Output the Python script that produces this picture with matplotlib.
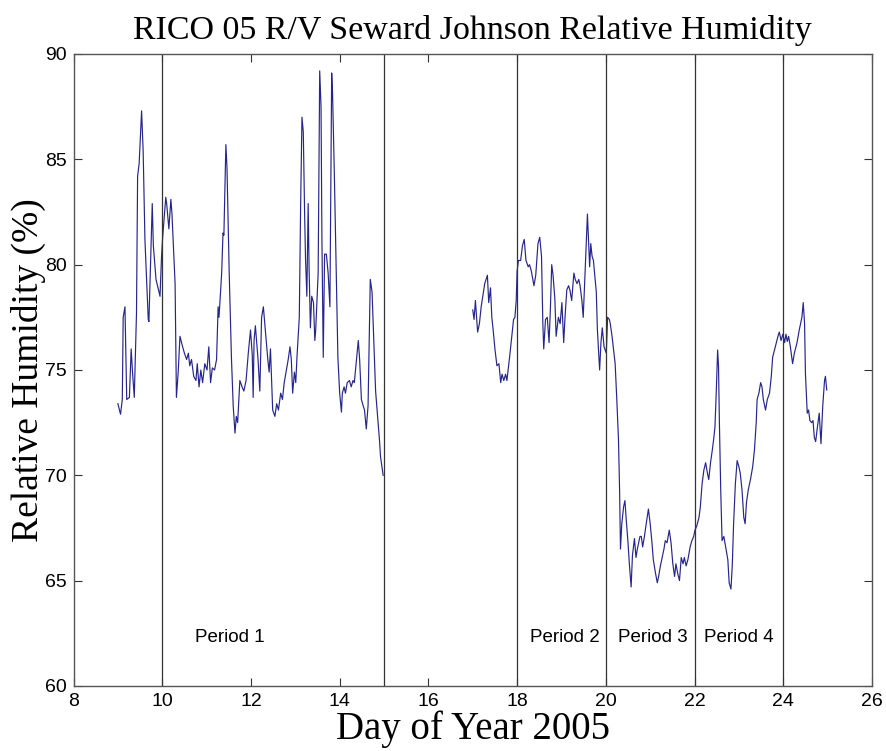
import matplotlib
matplotlib.use("Agg")
import matplotlib.pyplot as plt

# ---- data ----
day1 = [9.00, 9.06, 9.10, 9.12, 9.16, 9.20, 9.26, 9.30, 9.33, 9.37, 9.42, 9.445, 9.48, 9.535, 9.57,
        9.61, 9.685, 9.70, 9.775, 9.80, 9.86, 9.95, 9.985, 10.01, 10.08, 10.10, 10.15, 10.195, 10.22,
        10.29, 10.32, 10.36, 10.40, 10.46, 10.50, 10.55, 10.59, 10.62, 10.66, 10.71, 10.76, 10.79,
        10.83, 10.87, 10.91, 10.96, 11.01, 11.05, 11.09, 11.13, 11.18, 11.225, 11.26, 11.28, 11.34,
        11.37, 11.39, 11.435, 11.46, 11.51, 11.56, 11.60, 11.64, 11.67, 11.70, 11.75, 11.80, 11.84,
        11.89, 11.94, 11.99, 12.03, 12.05, 12.07, 12.10, 12.16, 12.20, 12.24, 12.28, 12.32, 12.38,
        12.41, 12.44, 12.49, 12.54, 12.58, 12.62, 12.67, 12.71, 12.75, 12.79, 12.84, 12.88, 12.91,
        12.94, 12.98, 13.01, 13.04, 13.09, 13.12, 13.15, 13.18, 13.21, 13.23, 13.26, 13.29, 13.31,
        13.34, 13.37, 13.41, 13.44, 13.46, 13.515, 13.55, 13.58, 13.60, 13.63, 13.66, 13.70, 13.74,
        13.78, 13.80, 13.82, 13.84, 13.88, 13.93, 13.96, 14.00, 14.04, 14.06, 14.10, 14.13, 14.17,
        14.22, 14.26, 14.30, 14.33, 14.38, 14.42, 14.45, 14.49, 14.53, 14.56, 14.60, 14.64, 14.66,
        14.69, 14.73, 14.77, 14.81, 14.865, 14.90, 14.92, 14.98]
rh1 = [73.4, 72.9, 73.6, 77.5, 78.0, 73.6, 73.7, 76.0, 74.9, 73.7, 77.7, 84.2, 84.8, 87.3, 85.4,
       81.2, 77.4, 77.3, 82.9, 80.9, 79.3, 78.5, 80.4, 81.3, 83.2, 82.9, 81.7, 83.1, 82.4,
       79.1, 73.7, 74.9, 76.6, 76.1, 75.8, 75.5, 75.8, 75.2, 75.5, 74.7, 74.5, 75.3,
       74.2, 75.0, 74.4, 75.3, 75.0, 76.1, 74.4, 75.1, 75.0, 75.5, 78.0, 77.5, 79.6,
       81.5, 81.4, 85.7, 84.6, 79.6, 75.6, 73.3, 72.0, 72.8, 72.5, 74.5, 74.2, 74.0,
       74.5, 75.8, 76.9, 75.7, 73.7, 76.4, 77.1, 75.5, 74.0, 77.5, 78.0, 77.0, 75.5,
       74.9, 76.0, 73.1, 72.8, 73.4, 73.1, 73.9, 73.6, 74.4, 74.9, 75.5, 76.1, 75.5,
       73.9, 74.9, 74.4, 75.7, 77.5, 82.8, 87.0, 86.3, 82.4, 80.3, 78.5, 82.9, 79.9,
       77.0, 78.5, 78.2, 76.4, 76.9, 79.6, 89.2, 87.5, 81.2, 75.6, 80.5, 80.5, 79.6,
       78.0, 83.6, 89.1, 88.1, 84.3, 78.8, 75.6, 73.9, 73.0, 73.9, 74.2, 73.9, 74.4,
       74.5, 74.2, 74.5, 74.4, 75.5, 76.4, 75.5, 73.6, 73.3, 73.1, 72.2, 73.3, 75.8,
       79.3, 78.7, 76.4, 74.0, 72.5, 71.6, 70.9, 70.0]

day2 = [17.00, 17.03, 17.06, 17.11, 17.15, 17.19, 17.27, 17.33, 17.36, 17.40, 17.43, 17.46, 17.50,
        17.545, 17.59, 17.63, 17.66, 17.70, 17.74, 17.77, 17.83, 17.88, 17.92, 17.95, 17.98, 18.00,
        18.03, 18.08, 18.12, 18.16, 18.20, 18.25, 18.28, 18.32, 18.38, 18.42, 18.47, 18.51, 18.55,
        18.58, 18.60, 18.64, 18.68, 18.72, 18.75, 18.78, 18.81, 18.85, 18.88, 18.93, 18.97, 19.01,
        19.05, 19.08, 19.12, 19.16, 19.19, 19.23, 19.28, 19.31, 19.35, 19.39, 19.42, 19.46, 19.49,
        19.52, 19.57, 19.585, 19.61, 19.635, 19.66, 19.69, 19.72, 19.785, 19.81, 19.86, 19.89, 19.92,
        19.96, 20.01, 20.04, 20.08, 20.10, 20.14, 20.21, 20.245, 20.285, 20.31, 20.33, 20.36, 20.40,
        20.43, 20.46, 20.50, 20.53, 20.57, 20.60, 20.645, 20.68, 20.71, 20.77, 20.80, 20.83, 20.87,
        20.91, 20.96, 21.00, 21.04, 21.07, 21.12, 21.16, 21.19, 21.23, 21.27, 21.31, 21.34, 21.38,
        21.43, 21.47, 21.51, 21.55, 21.58, 21.62, 21.66, 21.70, 21.74, 21.77, 21.81, 21.85, 21.90,
        21.94, 21.98, 22.01, 22.05, 22.10, 22.13, 22.17, 22.21, 22.25, 22.29, 22.32, 22.36, 22.40,
        22.43, 22.46, 22.49, 22.52, 22.54, 22.56, 22.59, 22.62, 22.66, 22.70, 22.75, 22.78, 22.82,
        22.85, 22.88, 22.92, 22.96, 23.00, 23.03, 23.07, 23.11, 23.14, 23.17, 23.21, 23.26, 23.31,
        23.35, 23.39, 23.41, 23.45, 23.49, 23.52, 23.55, 23.60, 23.64, 23.69, 23.73, 23.76, 23.82,
        23.88, 23.91, 23.95, 23.99, 24.03, 24.06, 24.09, 24.12, 24.16, 24.21, 24.25, 24.31, 24.36,
        24.42, 24.45, 24.48, 24.50, 24.54, 24.57, 24.60, 24.64, 24.67, 24.70, 24.73, 24.77, 24.81,
        24.85, 24.89, 24.93, 24.95, 24.98]
rh2 = [77.85, 77.4, 78.3, 76.8, 77.2, 78.0, 79.1, 79.5, 78.2, 78.9, 77.5, 76.9, 76.0,
       75.2, 75.3, 74.4, 74.8, 74.5, 74.8, 74.5, 75.6, 76.6, 77.4, 77.5, 78.3, 79.7,
       80.2, 80.2, 80.9, 81.2, 80.2, 79.9, 80.0, 79.7, 79.0, 79.5, 81.0, 81.3, 80.4,
       77.2, 76.0, 77.4, 77.5, 76.3, 77.9, 80.0, 79.5, 78.4, 76.6, 77.5, 77.2, 78.2,
       76.3, 77.5, 78.8, 79.0, 78.8, 78.3, 79.6, 79.3, 79.1, 79.3, 79.0, 78.3, 77.5,
       79.0, 81.7, 82.4, 81.2, 79.9, 81.0, 80.4, 80.2, 78.7, 76.9, 75.0, 76.3, 77.0,
       76.1, 75.8, 77.5, 77.4, 77.2, 76.6, 75.3, 73.7, 71.7, 69.3, 66.5, 67.7, 68.5,
       68.8, 67.9, 66.8, 65.8, 64.7, 66.2, 67.0, 66.1, 66.5, 67.1, 67.1, 66.6, 67.1,
       67.7, 68.4, 67.7, 66.8, 66.0, 65.35, 64.9, 65.2, 65.7, 66.1, 66.5, 66.9, 66.8,
       67.4, 66.8, 65.8, 65.2, 65.8, 65.35, 65.0, 66.1, 65.8, 66.1, 65.7, 66.0, 66.6,
       66.9, 67.1, 67.4, 67.6, 68.0, 68.5, 69.6, 70.25, 70.6, 70.1, 69.8, 70.6, 71.2,
       71.7, 72.3, 74.0, 75.95, 75.2, 72.5, 69.3, 66.9, 67.1, 66.6, 66.0, 64.9, 64.6,
       65.7, 67.7, 69.6, 70.7, 70.4, 70.1, 69.3, 68.0, 67.7, 68.7, 69.3, 69.8, 70.4,
       71.2, 72.5, 73.6, 73.9, 74.4, 74.2, 73.6, 73.1, 73.6, 73.9, 74.7, 75.6, 76.1,
       76.6, 76.8, 76.4, 76.7, 76.3, 76.7, 76.35, 76.6, 76.1, 75.3, 75.8, 76.3, 76.9,
       77.5, 78.2, 77.2, 74.8, 72.95, 73.1, 72.6, 72.5, 72.6, 71.8, 71.6, 72.3, 72.95,
       71.5, 73.3, 74.5, 74.7, 74.05]

period_bounds = [10, 15, 18, 20, 22, 24]
period_labels = ["Period 1", "Period 2", "Period 3", "Period 4"]
period_label_x = [11.53, 19.08, 21.05, 23.0]
period_label_y = 62.3

xticks = [8, 10, 12, 14, 16, 18, 20, 22, 24, 26]
yticks = [60, 65, 70, 75, 80, 85, 90]

title = "RICO 05 R/V Seward Johnson Relative Humidity"
xlabel = "Day of Year 2005"
ylabel = "Relative Humidity (%)"

# ---- figure ----
W, H = 886, 751
fig = plt.figure(figsize=(W / 100, H / 100), dpi=100)
L, R, T, B = 73.5, 872, 54, 686
ax = fig.add_axes([L / W, 1 - B / H, (R - L) / W, (B - T) / H])

line_color = "#25258f"
ax.plot(day1, rh1, color=line_color, lw=0.85)
ax.plot(day2, rh2, color=line_color, lw=0.85)

for xb in period_bounds:
    ax.axvline(xb, color="#333333", lw=0.9)

sans = ["Liberation Sans", "DejaVu Sans"]
serif = ["Liberation Serif", "DejaVu Serif"]

for lab, xp in zip(period_labels, period_label_x):
    ax.text(xp, period_label_y, lab, ha="center", va="center", fontsize=13.5, family=sans)

ax.set_xlim(8, 26)
ax.set_ylim(60, 90)
ax.set_xticks(xticks)
ax.set_yticks(yticks)
ax.set_xticklabels([str(v) for v in xticks], family=sans)
ax.set_yticklabels([str(v) for v in yticks], family=sans)
ax.tick_params(direction="in", top=True, right=True, length=6, width=0.8,
               labelsize=14, pad=5, colors="#333333", labelcolor="black")
for s in ax.spines.values():
    s.set_color("#555555")
    s.set_linewidth(1.0)

ax.set_title(title, family=serif, fontsize=24.5, pad=11)
ax.set_xlabel(xlabel, family=serif, fontsize=28)
ax.xaxis.label.set_va("baseline")
ax.xaxis.set_label_coords(0.5, (686 - 739) / (686 - 54))
ax.set_ylabel(ylabel, family=serif, fontsize=27)
ax.yaxis.set_label_coords(-0.034, 0.5)

fig.savefig("out.png", dpi=100)
